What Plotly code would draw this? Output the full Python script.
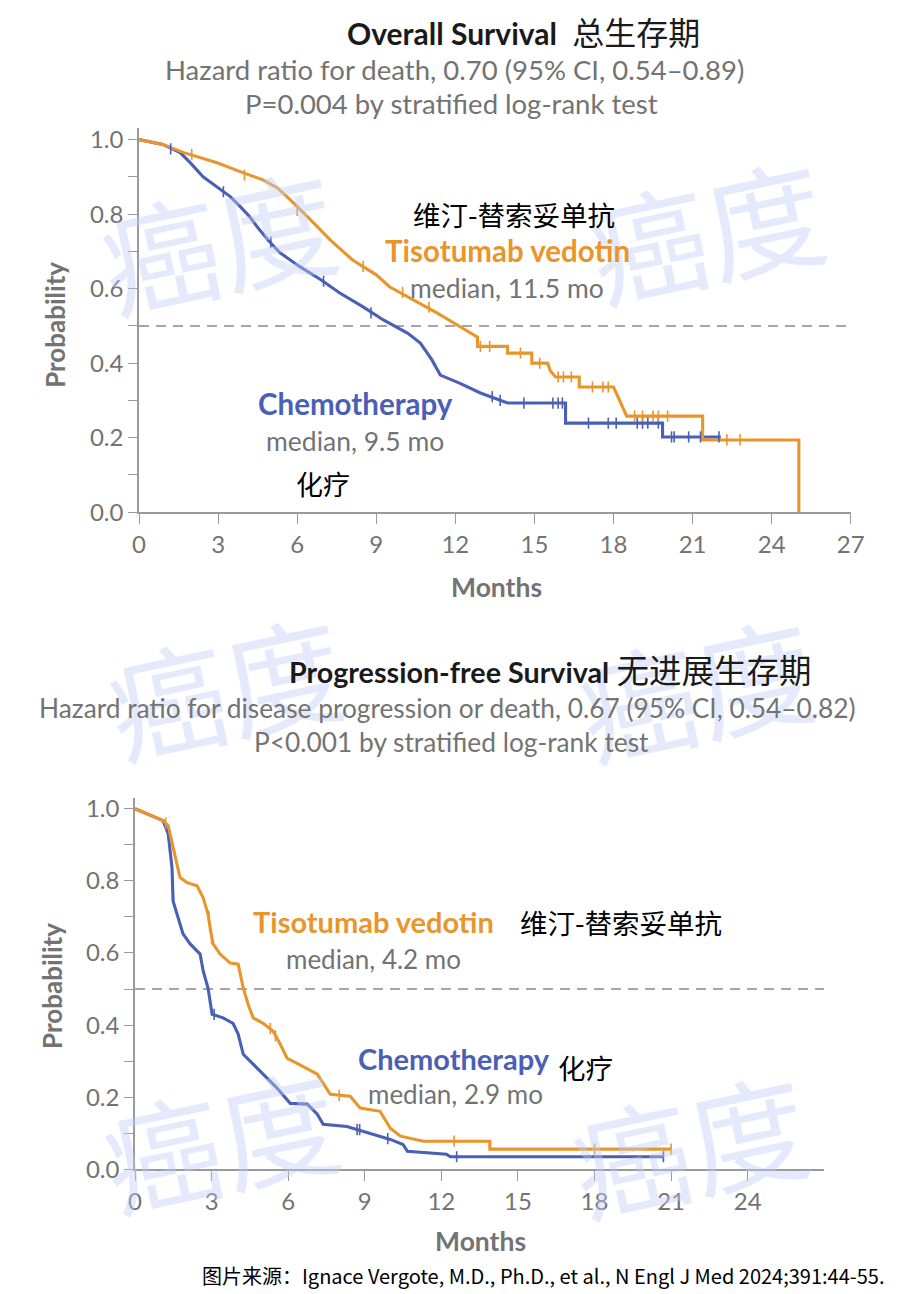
import plotly.graph_objects as go

# effective picture size used to place things (the photographed page maps onto this)
W, H = 887.5, 1280

# ---------------- data ----------------
os_tv_t = [0, 0.9, 1.7, 2.2, 2.96, 3.84, 4.7, 5.24, 5.73, 6.5, 7.25, 8.1, 9.0, 9.5, 10.4,
           11.3, 12.2, 12.84, 12.84, 13.98, 13.98, 14.9, 14.9, 15.5, 15.6, 15.8, 16.7, 16.7,
           18.0, 18.2, 18.35, 18.5, 21.38, 21.38, 25.03, 25.03]
os_tv_s = [1.0, 0.987, 0.965, 0.954, 0.938, 0.914, 0.892, 0.871, 0.839, 0.785, 0.731, 0.677,
           0.637, 0.605, 0.57, 0.535, 0.497, 0.47, 0.445, 0.445, 0.427, 0.427, 0.40, 0.40,
           0.38, 0.363, 0.363, 0.336, 0.336, 0.305, 0.285, 0.258, 0.258, 0.194, 0.194, 0.0]
os_ch_t = [0, 0.9, 1.56, 1.94, 2.43, 2.96, 3.46, 3.84, 4.2, 4.48, 4.9, 5.35, 6.1, 6.9, 7.6,
           8.5, 9.27, 10.2, 10.67, 11.1, 11.43, 12.2, 12.95, 13.98, 16.18, 16.18, 19.86,
           19.86, 22.07]
os_ch_s = [1.0, 0.987, 0.965, 0.938, 0.90, 0.874, 0.847, 0.82, 0.793, 0.766, 0.73, 0.696,
           0.659, 0.624, 0.589, 0.551, 0.516, 0.48, 0.454, 0.41, 0.368, 0.345, 0.32, 0.293,
           0.293, 0.239, 0.239, 0.202, 0.202]
os_tv_cens_t = [2.0, 4.0, 6.0, 8.5, 10.0, 11.0, 12.95, 13.3, 14.47, 15.2, 15.9, 16.1, 16.4,
                17.2, 17.6, 17.8, 18.8, 19.1, 19.5, 19.7, 20.05, 22.3, 22.8]
os_tv_cens_s = [0.96, 0.905, 0.81, 0.66, 0.59, 0.55, 0.445, 0.445, 0.427, 0.40, 0.363, 0.363,
                0.363, 0.336, 0.336, 0.336, 0.258, 0.258, 0.258, 0.258, 0.258, 0.194, 0.194]
os_ch_cens_t = [1.2, 3.2, 5.0, 7.0, 8.8, 13.4, 13.7, 14.6, 15.7, 15.9, 16.06, 17.05, 17.8,
                18.1, 18.9, 19.1, 19.3, 19.7, 20.2, 20.3, 20.85, 21.3, 22.0]
os_ch_cens_s = [0.975, 0.86, 0.725, 0.62, 0.535, 0.31, 0.30, 0.293, 0.293, 0.293, 0.293,
                0.239, 0.239, 0.239, 0.239, 0.239, 0.239, 0.239, 0.202, 0.202, 0.202,
                0.202, 0.202]

pfs_tv_t = [0, 1.1, 1.3, 1.5, 1.76, 2.04, 2.43, 2.67, 2.86, 2.94, 3.06, 3.33, 3.73, 4.04,
            4.24, 4.43, 4.63, 5.02, 5.41, 5.69, 5.96, 6.35, 7.14, 7.65, 8.43, 8.82, 9.6,
            10.0, 10.4, 11.3, 13.9, 13.9, 21.0]
pfs_tv_s = [1.0, 0.967, 0.953, 0.89, 0.81, 0.795, 0.786, 0.753, 0.708, 0.67, 0.625, 0.597,
            0.572, 0.569, 0.503, 0.458, 0.42, 0.405, 0.383, 0.347, 0.308, 0.294, 0.264,
            0.208, 0.203, 0.17, 0.161, 0.114, 0.092, 0.078, 0.078, 0.056, 0.056]
pfs_ch_t = [0, 1.1, 1.3, 1.45, 1.49, 1.65, 1.88, 2.16, 2.55, 2.67, 2.86, 3.02, 3.45, 3.84,
            4.04, 4.24, 4.63, 5.02, 5.57, 6.08, 6.75, 7.14, 7.37, 8.3, 8.94, 10.0, 10.5,
            10.67, 12.2, 12.35, 20.7]
pfs_ch_s = [1.0, 0.967, 0.93, 0.836, 0.744, 0.708, 0.653, 0.625, 0.597, 0.55, 0.503, 0.43,
            0.42, 0.405, 0.375, 0.319, 0.292, 0.264, 0.225, 0.183, 0.181, 0.153, 0.125,
            0.119, 0.106, 0.083, 0.069, 0.05, 0.042, 0.035, 0.035]
pfs_tv_cens_t = [1.2, 2.9, 2.95, 3.0, 5.3, 5.5, 8.0, 12.5, 18.0, 21.0]
pfs_tv_cens_s = [0.96, 0.70, 0.67, 0.64, 0.39, 0.37, 0.205, 0.078, 0.056, 0.056]
pfs_ch_cens_t = [1.45, 1.5, 3.1, 8.7, 8.8, 9.9, 12.6, 20.7]
pfs_ch_cens_s = [0.83, 0.76, 0.43, 0.11, 0.11, 0.085, 0.035, 0.035]

x_ticks_os = [0, 3, 6, 9, 12, 15, 18, 21, 24, 27]
x_ticks_pfs = [0, 3, 6, 9, 12, 15, 18, 21, 24]
y_ticks = [0.0, 0.2, 0.4, 0.6, 0.8, 1.0]
y_minor = [0.1, 0.3, 0.5, 0.7, 0.9]
median_level = [0.5]

ORANGE = "#E8952B"
BLUE = "#4A60B6"
GRAY = "#737373"
AXIS = "#9a9a9a"
FONT = "Lato, 'Noto Sans CJK SC', sans-serif"
CJK = "'Noto Sans CJK SC', sans-serif"

fig = go.Figure()

def curve(t, s, color, xa, ya):
    fig.add_trace(go.Scatter(x=t, y=s, mode="lines", line=dict(color=color, width=3.1),
                             xaxis=xa, yaxis=ya, showlegend=False, hoverinfo="skip"))

def cens(t, s, color, xa, ya):
    fig.add_trace(go.Scatter(x=t, y=s, mode="markers",
                             marker=dict(symbol="line-ns-open", size=8, color=color,
                                         line=dict(color=color, width=1.6)),
                             xaxis=xa, yaxis=ya, showlegend=False, hoverinfo="skip"))

curve(os_ch_t, os_ch_s, BLUE, "x", "y")
curve(os_tv_t, os_tv_s, ORANGE, "x", "y")
cens(os_ch_cens_t, os_ch_cens_s, BLUE, "x", "y")
cens(os_tv_cens_t, os_tv_cens_s, ORANGE, "x", "y")
curve(pfs_ch_t, pfs_ch_s, BLUE, "x2", "y2")
curve(pfs_tv_t, pfs_tv_s, ORANGE, "x2", "y2")
cens(pfs_ch_cens_t, pfs_ch_cens_s, BLUE, "x2", "y2")
cens(pfs_tv_cens_t, pfs_tv_cens_s, ORANGE, "x2", "y2")

# small placement corrections (pixel target -> placement pixel)
def cx(px):
    return px - 6 * (850 - px) / 711 if px < 850 else px

def cy(py):
    return py - 5 * (1168 - py) / 1028 if py < 1168 else py

def px_x(a, b):
    return [cx(a) / W, cx(b) / W]

def px_y(bottom, top):
    return [1 - cy(bottom) / H, 1 - cy(top) / H]

YMAX = 1.03
top_y0, top_scale = 512, 372
bot_y0, bot_scale = 1168, 360

xcommon = dict(range=[0, 27], showgrid=False, zeroline=False, showline=True,
               linecolor=AXIS, linewidth=1.6, ticks="outside", ticklen=10,
               tickcolor=AXIS, tickwidth=1.4,
               tickfont=dict(family=FONT, size=24, color=GRAY), fixedrange=True)
ycommon = dict(range=[0, YMAX], showgrid=False, zeroline=False, showline=True,
               linecolor=AXIS, linewidth=1.6, ticks="outside", ticklen=9,
               tickcolor=AXIS, tickwidth=1.4, tickvals=y_ticks, tickformat=".1f",
               tickfont=dict(family=FONT, size=24, color=GRAY), fixedrange=True,
               minor=dict(tickvals=y_minor, ticks="outside", ticklen=9,
                          tickcolor=AXIS, tickwidth=1.4))

fig.update_layout(
    autosize=True,
    margin=dict(l=0, r=0, t=0, b=0),
    paper_bgcolor="white", plot_bgcolor="white",
    xaxis=dict(xcommon, domain=px_x(139, 850), tickvals=x_ticks_os, anchor="y"),
    yaxis=dict(ycommon, domain=px_y(top_y0, top_y0 - YMAX * top_scale), anchor="x"),
    xaxis2=dict(xcommon, domain=px_x(135, 135 + 27 * 25.5), tickvals=x_ticks_pfs, anchor="y2"),
    yaxis2=dict(ycommon, domain=px_y(bot_y0, bot_y0 - YMAX * bot_scale), anchor="x2"),
)

for xr, yr in (("x", "y"), ("x2", "y2")):
    for lvl in median_level:
        fig.add_shape(type="line", xref=xr, yref=yr, x0=0, x1=27, y0=lvl, y1=lvl,
                      line=dict(color="#a6a6a6", width=2, dash="10px,7px"), layer="below")

annots = []

def txt(text, px, py, size, color, family=FONT, anchor="center", angle=0):
    annots.append(dict(text=text, x=cx(px) / W, y=1 - cy(py) / H, xref="paper", yref="paper",
                       xanchor=anchor, yanchor="middle", showarrow=False, textangle=angle,
                       borderpad=0, font=dict(family=family, size=size, color=color)))

# watermarks
for (wx, wy) in [(218, 238), (705, 228), (225, 683), (695, 685), (220, 1135), (688, 1140)]:
    txt("癌度", wx, wy, 118, "rgba(190,205,245,0.42)", family=CJK, angle=-12)

# top panel texts
txt("<b>Overall Survival</b>  <span style='font-family:Noto Sans CJK SC;font-size:32px'>总生存期</span>",
    523, 32, 30, "#1a1a1a")
txt("Hazard ratio for death, 0.70 (95% CI, 0.54–0.89)", 454, 70, 27.5, GRAY)
txt("P=0.004 by stratified log-rank test", 451, 104, 27.5, GRAY)
txt("维汀-替索妥单抗", 514, 214, 27.5, "#000000", family=CJK)
txt("<b>Tisotumab vedotin</b>", 507, 251, 29.5, ORANGE)
txt("median, 11.5 mo", 507, 288, 26.5, GRAY)
txt("<b>Chemotherapy</b>", 355, 403, 29.5, BLUE)
txt("median, 9.5 mo", 355, 441, 26.5, GRAY)
txt("化疗", 323, 483, 27, "#000000", family=CJK)
txt("<b>Probability</b>", 55, 325, 26, GRAY, angle=-90)
txt("<b>Months</b>", 496, 587, 26.5, GRAY)

# bottom panel texts
txt("<b>Progression-free Survival</b> <span style='font-family:Noto Sans CJK SC;font-size:32.5px'>无进展生存期</span>",
    550, 668, 28.7, "#1a1a1a")
txt("Hazard ratio for disease progression or death, 0.67 (95% CI, 0.54–0.82)", 447, 707, 26.3, GRAY)
txt("P<0.001 by stratified log-rank test", 451, 741, 26.3, GRAY)
txt("<b>Tisotumab vedotin</b>", 373, 921, 29, ORANGE)
txt("median, 4.2 mo", 373, 958, 26, GRAY)
txt("维汀-替索妥单抗", 620, 921, 27.5, "#000000", family=CJK)
txt("<b>Chemotherapy</b>", 454, 1057, 29, BLUE)
txt("median, 2.9 mo", 455, 1093, 26, GRAY)
txt("化疗", 585, 1066, 27.5, "#000000", family=CJK)
txt("<b>Probability</b>", 52, 985, 26, GRAY, angle=-90)
txt("<b>Months</b>", 480, 1240, 26.5, GRAY)

# footer
txt("图片来源：Ignace Vergote, M.D., Ph.D., et al., N Engl J Med 2024;391:44-55.",
    885, 1274, 20, "#000000", family=CJK, anchor="right")

fig.update_layout(annotations=annots)
fig.write_html("out.html", config={"displayModeBar": False, "responsive": True},
               default_width="100vw", default_height="100vh",
               post_script="document.documentElement.style.margin='0';document.body.style.margin='0';"
                           "document.documentElement.style.overflow='hidden';document.body.style.overflow='hidden';")
